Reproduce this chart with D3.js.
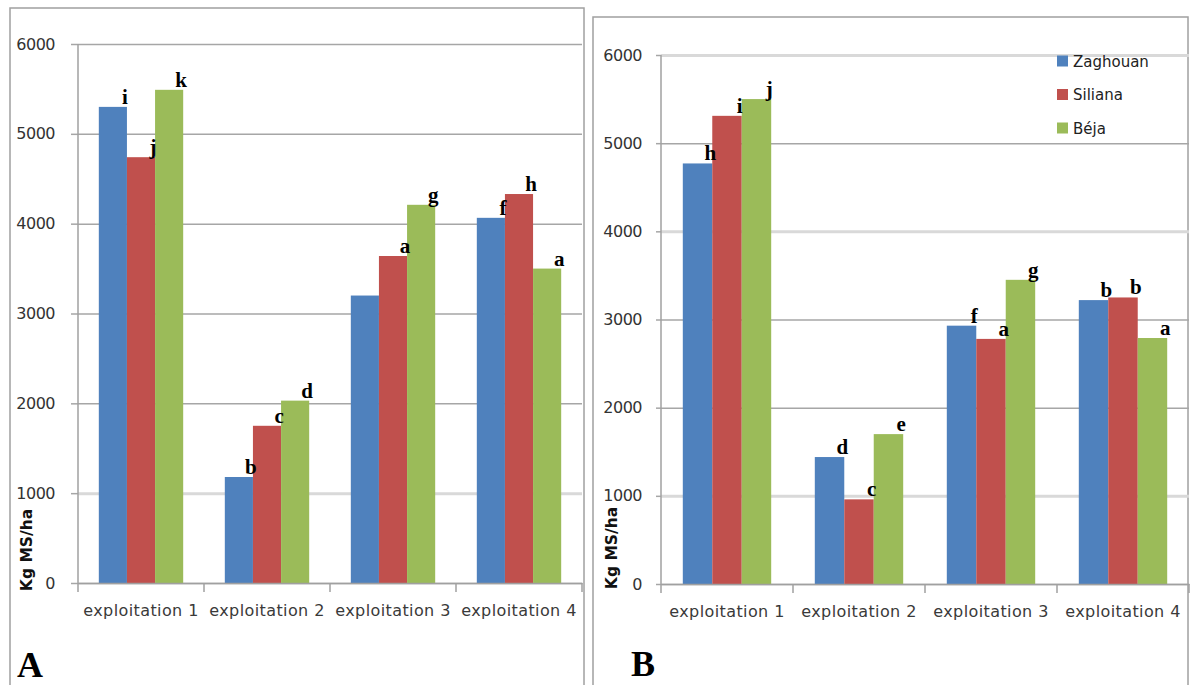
<!DOCTYPE html>
<html><head><meta charset="utf-8">
<script src="https://cdn.jsdelivr.net/npm/d3@7"></script>
<style>
html,body{margin:0;padding:0;background:#fff;}
svg{display:block;}
</style>
</head><body>
<svg id="chart" width="1190" height="685"></svg>
<script>
// ---- data ----
const categories = ["exploitation 1","exploitation 2","exploitation 3","exploitation 4"];
const seriesNames = ["Zaghouan","Siliana","Béja"];
const yTicks = [0,1000,2000,3000,4000,5000,6000];

// Panel A
const zaghouanA = [5300, 1180, 3200, 4065];
const silianaA  = [4740, 1750, 3640, 4330];
const bejaA     = [5490, 2030, 4210, 3500];
const lettersZaghouanA = ["i","b","","f"];
const lettersSilianaA  = ["j","c","a","h"];
const lettersBejaA     = ["k","d","g","a"];

// Panel B
const zaghouanB = [4770, 1440, 2930, 3220];
const silianaB  = [5310, 960, 2780, 3250];
const bejaB     = [5500, 1700, 3450, 2790];
const lettersZaghouanB = ["h","d","f","b"];
const lettersSilianaB  = ["i","c","a","b"];
const lettersBejaB     = ["j","e","g","a"];

const colors = ["#4F81BD","#C0504D","#9BBB59"];

const svg = d3.select("#chart");

function drawPanel(cfg){
  const g = svg.append("g");
  // frame
  g.append("rect").attr("x",cfg.frame[0]).attr("y",cfg.frame[1])
    .attr("width",cfg.frame[2]-cfg.frame[0]).attr("height",cfg.frame[3]-cfg.frame[1])
    .attr("fill","#fff").attr("stroke","#a0a0a0").attr("stroke-width",1.5);

  const x = d3.scaleBand().domain(categories).range([cfg.x0,cfg.x1]).paddingInner(0).paddingOuter(0);
  const y = d3.scaleLinear().domain([0,6000]).range([cfg.yZero,cfg.yTop]);
  const xs = d3.scaleBand().domain(seriesNames).range([0,x.bandwidth()]).paddingInner(0).paddingOuter(0.74);

  // gridlines + y labels
  const yAxis = d3.axisLeft(y).tickValues(yTicks).tickSizeInner(-(cfg.x1-cfg.x0)).tickSizeOuter(0)
    .tickPadding(cfg.tickPad).tickFormat(d3.format("d"));
  const ya = g.append("g").attr("transform",`translate(${cfg.x0},0)`).call(yAxis);
  ya.select(".domain").remove();
  ya.selectAll(".tick line")
    .attr("stroke", d => cfg.lightLines.includes(d) ? "#d9d9d9" : "#a6a6a6")
    .attr("stroke-width", d => cfg.lightLines.includes(d) ? 3 : 1.5);
  ya.selectAll(".tick").append("line").attr("x1",-cfg.leftTick).attr("x2",0)
    .attr("stroke","#a6a6a6").attr("stroke-width",1.5);
  ya.selectAll(".tick text").attr("font-family","DejaVu Sans, sans-serif")
    .attr("font-size",16).attr("fill","#333").attr("letter-spacing","-0.5px");

  // bars
  const series = cfg.values.map((vals,si)=>({name:seriesNames[si],vals,letters:cfg.letters[si],color:colors[si]}));
  const sg = g.append("g").selectAll("g").data(series).join("g").attr("fill",d=>d.color);
  sg.selectAll("rect").data(d=>d.vals.map((v,i)=>({cat:categories[i],v,s:d.name})))
    .join("rect")
    .attr("x",d=>x(d.cat)+xs(d.s))
    .attr("y",d=>y(d.v))
    .attr("width",xs.bandwidth())
    .attr("height",d=>y(0)-y(d.v));

  // y axis line
  g.append("line").attr("x1",cfg.x0).attr("x2",cfg.x0).attr("y1",cfg.yTop).attr("y2",cfg.yZero)
    .attr("stroke","#a0a0a0").attr("stroke-width",1.5);
  // x axis
  const xAxis = d3.axisBottom(x).tickSize(0).tickPadding(cfg.catPad);
  const xa = g.append("g").attr("transform",`translate(0,${cfg.yZero})`).call(xAxis);
  xa.select(".domain").attr("stroke","#a0a0a0").attr("stroke-width",1.5);
  xa.selectAll(".tick text").attr("font-family","DejaVu Sans, sans-serif")
    .attr("font-size",16).attr("fill","#3a3a3a").attr("letter-spacing","0.4px");
  const edges = categories.map(c=>x(c)).concat([cfg.x1]);
  g.append("g").selectAll("line").data(edges).join("line")
    .attr("x1",d=>d).attr("x2",d=>d).attr("y1",cfg.yZero).attr("y2",cfg.yZero+9)
    .attr("stroke","#a0a0a0").attr("stroke-width",1.5);

  // letters
  const lt = [];
  series.forEach(s=>s.vals.forEach((v,i)=>{ if(s.letters[i]) lt.push({cat:categories[i],s:s.name,v,t:s.letters[i]}); }));
  g.append("g").selectAll("text").data(lt).join("text")
    .attr("x",d=>x(d.cat)+xs(d.s)+xs.bandwidth()-2)
    .attr("y",d=>y(d.v)-3)
    .attr("text-anchor","middle")
    .attr("font-family","Liberation Serif, Times New Roman, serif")
    .attr("font-weight","bold").attr("font-size",21).attr("fill","#000")
    .text(d=>d.t);

  // y title
  g.append("text").attr("transform",`translate(${cfg.titleX},${cfg.titleY}) rotate(-90)`)
    .attr("text-anchor","middle").attr("font-family","DejaVu Sans, sans-serif")
    .attr("font-size",15.5).attr("font-weight","bold").attr("fill","#111").text("Kg MS/ha");

  // panel letter
  g.append("text").attr("x",cfg.panelX).attr("y",cfg.panelY)
    .attr("font-family","Liberation Serif, Times New Roman, serif")
    .attr("font-weight","bold").attr("font-size",36).attr("fill","#000").text(cfg.panel);
  return {x,y};
}

drawPanel({
  frame:[10,8,584,700], x0:78, x1:582, yZero:583, yTop:44, tickPad:23, leftTick:7, catPad:22,
  lightLines:[1000], values:[zaghouanA,silianaA,bejaA],
  letters:[lettersZaghouanA,lettersSilianaA,lettersBejaA],
  titleX:32, titleY:550, panel:"A", panelX:17, panelY:677
});

drawPanel({
  frame:[593,17,1188,700], x0:661, x1:1189, yZero:584, yTop:55, tickPad:19, leftTick:5, catPad:22,
  lightLines:[1000,4000,6000], values:[zaghouanB,silianaB,bejaB],
  letters:[lettersZaghouanB,lettersSilianaB,lettersBejaB],
  titleX:617, titleY:548, panel:"B", panelX:631, panelY:676
});

// legend (panel B)
const leg = svg.append("g").selectAll("g").data(seriesNames).join("g")
  .attr("transform",(d,i)=>`translate(1057,${61 + i*33.5})`);
leg.append("rect").attr("x",0).attr("y",-5.5).attr("width",11).attr("height",11).attr("fill",(d,i)=>colors[i]);
leg.append("text").attr("x",16).attr("y",5.5).attr("font-family","DejaVu Sans, sans-serif")
  .attr("font-size",15).attr("fill","#222").text(d=>d);
</script>
</body></html>
